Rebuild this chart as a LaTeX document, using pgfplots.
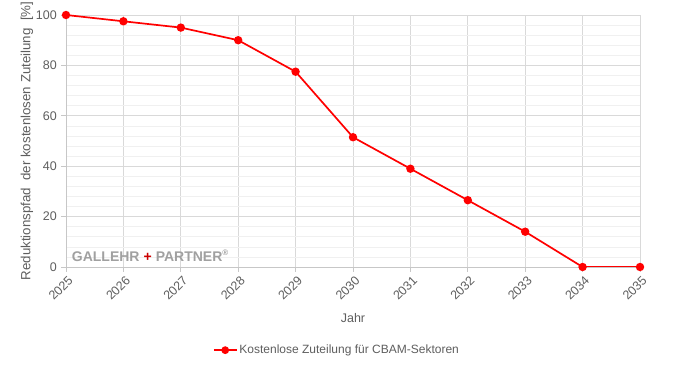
\documentclass[border=0pt]{standalone}
\usepackage{pgfplots}
\pgfplotsset{compat=1.18}
\usepackage{fontspec}
\setmainfont{Liberation Sans}
\definecolor{gridmaj}{HTML}{D9D9D9}
\definecolor{gridmin}{HTML}{F0F0F0}
\definecolor{ticktxt}{HTML}{5E5E5E}
\definecolor{wm}{HTML}{A0A0A0}
\definecolor{wmred}{HTML}{CC0000}
\begin{document}
\begin{tikzpicture}
\path[use as bounding box] (-66pt,-99pt) rectangle (608pt,267pt);
\begin{axis}[
  at={(0,0)}, anchor=south west,
  scale only axis, width=574pt, height=252pt,
  xmin=2025, xmax=2035, ymin=0, ymax=100,
  xtick={2025,...,2035}, ytick={0,20,...,100},
  minor x tick num=4, minor y tick num=4,
  grid=both,
  major grid style={gridmaj, line width=0.8pt},
  minor grid style={gridmin, line width=0.6pt},
  axis x line*=bottom, axis y line*=left,
  axis line style={gridmaj!80!gray, line width=0.8pt, -},
  tick align=outside, major tick length=5pt, minor tick length=0pt,
  tick style={gridmaj!80!gray, line width=0.8pt},
  /pgf/number format/assume math mode=true,
  /pgf/number format/1000 sep={},
  ticklabel style={font=\fontsize{12.5}{14}\selectfont, text=ticktxt},
  xticklabel style={rotate=45, anchor=north east, inner sep=1pt, yshift=-2pt},
  yticklabel style={inner sep=2pt, xshift=-2pt},
  xlabel={Jahr},
  ylabel={Reduktionspfad\ \ der kostenlosen Zuteilung\ \ [\%]},
  label style={text=ticktxt},
  xlabel style={font=\fontsize{12.5}{14}\selectfont, at={(axis description cs:0.5,-0.202)}, anchor=center},
  ylabel style={font=\fontsize{13.3}{15}\selectfont, at={(axis description cs:-0.068,0.5)}, anchor=center, rotate=0},
  legend style={at={(axis description cs:0.472,-0.33)}, anchor=center, draw=none, fill=none,
    font=\fontsize{12}{14}\selectfont, text=ticktxt},
  legend cell align=left,
  legend image code/.code={\draw[#1] (0pt,0pt) -- (0.8cm,0pt); \fill[red] (0.4cm,0pt) circle (3pt);},
]
\addplot[red, line width=1.7pt, mark=*, mark size=3.3pt, mark options={fill=red, draw=red}]
coordinates {(2025,100) (2026,97.5) (2027,95) (2028,90) (2029,77.5) (2030,51.5) (2031,39) (2032,26.5) (2033,14) (2034,0) (2035,0)};
\addlegendentry{Kostenlose Zuteilung für CBAM-Sektoren}
\node[anchor=west, inner sep=0pt, font=\fontsize{14}{16}\selectfont\bfseries, text=wm] at (axis cs:2025.1,4.4)
  {GALLEHR\kern4pt\textcolor{wmred}{+}\kern4pt PARTNER\raisebox{0.75ex}{\fontsize{8}{9}\selectfont ®}};
\end{axis}
\end{tikzpicture}
\end{document}
